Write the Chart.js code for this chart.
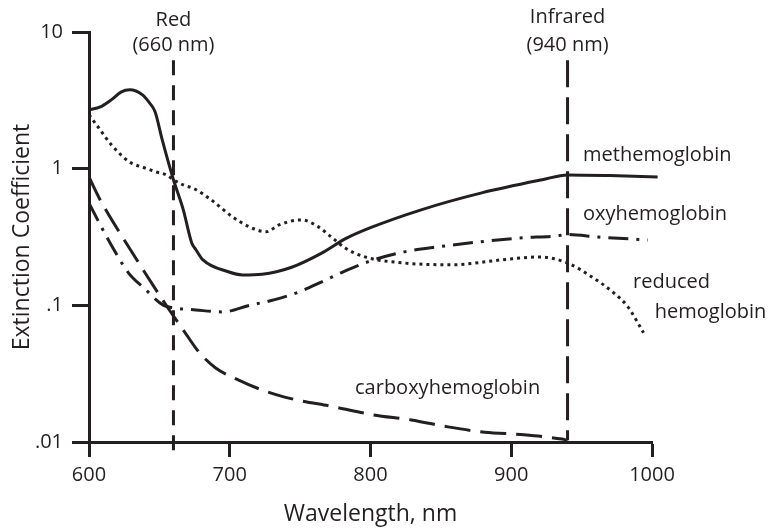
<!DOCTYPE html>
<html>
<head>
<meta charset="utf-8">
<script src="https://cdn.jsdelivr.net/npm/chart.js@4.4.1/dist/chart.umd.min.js"></script>
<style>
  html, body { margin: 0; padding: 0; background: #fff; }
</style>
</head>
<body>
<canvas id="myChart" width="774" height="530"></canvas>
<script>
// Wavelength (nm) / extinction coefficient.
const methWl  = [600, 608, 616, 623, 629, 638, 643, 647, 652, 660, 667, 673, 676, 681, 699, 709, 723, 744, 765, 783, 800, 836, 879, 922, 940, 970, 1004];
const methVal = [2.69, 2.83, 3.2, 3.65, 3.78, 3.47, 3.03, 2.6, 1.63, 0.83, 0.50, 0.286, 0.255, 0.215, 0.176, 0.167, 0.169, 0.19, 0.24, 0.31, 0.37, 0.50, 0.665, 0.83, 0.90, 0.89, 0.87];

const oxyWl  = [600, 608, 615, 628, 639, 653, 660, 676, 695, 714, 732, 749, 765, 779, 798, 824, 848, 877, 906, 932, 940, 962, 997];
const oxyVal = [0.56, 0.388, 0.286, 0.173, 0.134, 0.1, 0.096, 0.0925, 0.0895, 0.1, 0.11, 0.125, 0.148, 0.173, 0.208, 0.246, 0.268, 0.291, 0.311, 0.322, 0.33, 0.316, 0.301];

const redWl  = [600, 608, 616, 625, 630, 640, 647, 655, 660, 667, 675, 686, 702, 714, 726, 735, 751, 763, 772, 782, 796, 824, 858, 893, 920, 940, 957, 973, 983, 994];
const redVal = [2.48, 1.92, 1.49, 1.2, 1.1, 1.01, 0.95, 0.9, 0.83, 0.76, 0.71, 0.6, 0.444, 0.375, 0.345, 0.388, 0.422, 0.375, 0.317, 0.263, 0.226, 0.204, 0.198, 0.215, 0.226, 0.204, 0.162, 0.123, 0.097, 0.063];

const carbWl  = [600, 608, 630, 656, 667, 678, 690, 706, 723, 739, 775, 802, 829, 855, 881, 909, 936, 940];
const carbVal = [0.87, 0.59, 0.25, 0.096, 0.066, 0.0456, 0.0348, 0.0285, 0.024, 0.0213, 0.018, 0.0158, 0.0145, 0.0129, 0.0118, 0.0113, 0.0105, 0.0103];

// LED wavelengths marked with vertical lines
const redLed = 660;
const irLed = 940;

const xTicks = [600, 700, 800, 900, 1000];
const yTicks = [0.01, 0.1, 1, 10];
const yTickLabels = ['.01', '.1', '1', '10'];

const ink = '#231f20';
Chart.defaults.font.family = "'Open Sans', sans-serif";
Chart.defaults.color = ink;

function pts(xs, ys) {
  return xs.map((x, i) => ({ x: x, y: ys[i] }));
}

// text placed next to the curves, in data coordinates
const curveLabels = [
  { text: 'methemoglobin', x: 951, y: 1.26 },
  { text: 'oxyhemoglobin', x: 951, y: 0.46 },
  { text: 'reduced', x: 986.5, y: 0.148 },
  { text: 'hemoglobin', x: 1002, y: 0.0895 },
  { text: 'carboxyhemoglobin', x: 789, y: 0.0249 }
];

const labelPlugin = {
  id: 'labelPlugin',
  afterDatasetsDraw(chart) {
    const ctx = chart.ctx;
    const xs = chart.scales.x, ys = chart.scales.y;
    ctx.save();
    ctx.fillStyle = ink;
    ctx.font = "20px 'Open Sans', sans-serif";
    ctx.textBaseline = 'middle';
    ctx.textAlign = 'left';
    curveLabels.forEach(l => {
      ctx.fillText(l.text, xs.getPixelForValue(l.x), ys.getPixelForValue(l.y));
    });
    // headings over the two LED lines
    ctx.textAlign = 'center';
    const top = chart.chartArea.top;
    const rx = xs.getPixelForValue(redLed);
    const ix = xs.getPixelForValue(irLed);
    ctx.fillText('Red', rx, top - 12);
    ctx.fillText('(' + redLed + ' nm)', rx, top + 13);
    ctx.fillText('Infrared', ix, top - 15);
    ctx.fillText('(' + irLed + ' nm)', ix, top + 13);
    ctx.restore();
  }
};

const lineBase = { pointRadius: 0, borderColor: ink, borderWidth: 3, fill: false,
                   cubicInterpolationMode: 'monotone', borderCapStyle: 'butt' };

new Chart(document.getElementById('myChart'), {
  type: 'line',
  data: {
    datasets: [
      Object.assign({}, lineBase, { label: 'methemoglobin', data: pts(methWl, methVal), clip: false }),
      Object.assign({}, lineBase, { label: 'oxyhemoglobin', data: pts(oxyWl, oxyVal), borderDash: [20, 8, 3, 8] }),
      Object.assign({}, lineBase, { label: 'reduced hemoglobin', data: pts(redWl, redVal), borderDash: [3, 4] }),
      Object.assign({}, lineBase, { label: 'carboxyhemoglobin', data: pts(carbWl, carbVal), borderDash: [26, 10] }),
      Object.assign({}, lineBase, { label: 'Red', data: [{ x: redLed, y: 6.2 }, { x: redLed, y: 0.0085 }],
        borderDash: [15, 10], tension: 0, cubicInterpolationMode: 'default', clip: false }),
      Object.assign({}, lineBase, { label: 'Infrared', data: [{ x: irLed, y: 6.2 }, { x: irLed, y: 0.0103 }],
        borderDash: [27, 10], tension: 0, cubicInterpolationMode: 'default', clip: false })
    ]
  },
  options: {
    responsive: false,
    animation: false,
    layout: { padding: { top: 32, right: 122, left: 0, bottom: 0 } },
    plugins: {
      legend: { display: false },
      tooltip: { enabled: false }
    },
    scales: {
      x: {
        type: 'linear',
        min: 600,
        max: 1000,
        afterFit: s => { s.height = 88; },
        afterBuildTicks: s => { s.ticks = xTicks.map(v => ({ value: v })); },
        grid: { drawOnChartArea: false, tickLength: 15, tickWidth: 3, tickColor: ink },
        border: { display: true, width: 3, color: ink },
        ticks: { padding: 6, font: { size: 20 }, color: ink, callback: v => String(v) },
        title: { display: true, text: 'Wavelength, nm', font: { size: 23 }, color: ink,
                 padding: { top: 0, bottom: 2 } }
      },
      y: {
        type: 'logarithmic',
        min: 0.01,
        max: 10,
        afterFit: s => { s.width = 89; },
        afterBuildTicks: s => { s.ticks = yTicks.map(v => ({ value: v })); },
        grid: { drawOnChartArea: false, tickLength: 17, tickWidth: 3, tickColor: ink },
        border: { display: true, width: 3, color: ink },
        ticks: {
          padding: 9, font: { size: 20 }, color: ink,
          callback: v => { const i = yTicks.indexOf(v); return i >= 0 ? yTickLabels[i] : ''; }
        },
        title: { display: true, text: 'Extinction Coefficient', font: { size: 23 }, color: ink,
                 padding: { top: 9, bottom: 0 } }
      }
    }
  },
  plugins: [labelPlugin]
});
</script>
</body>
</html>
